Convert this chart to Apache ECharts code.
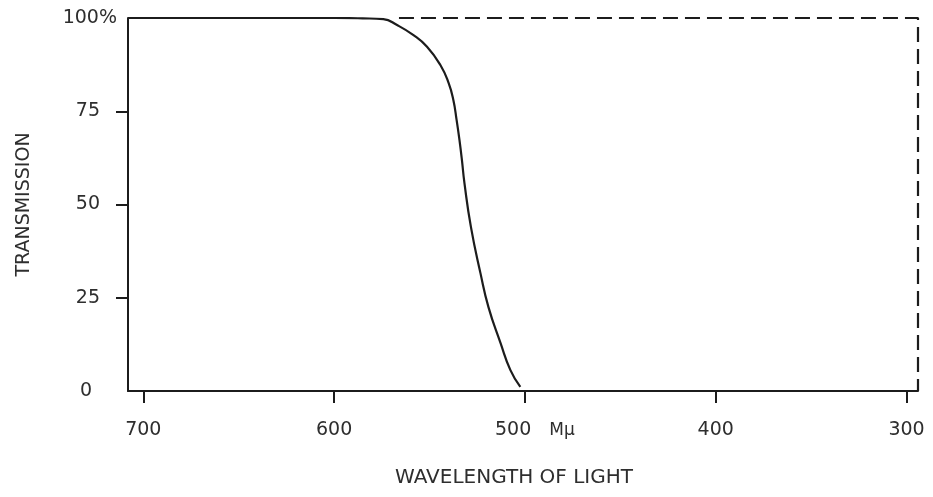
<!DOCTYPE html>
<html>
<head>
<meta charset="utf-8">
<script src="https://cdn.jsdelivr.net/npm/echarts@6/dist/echarts.min.js"></script>
<style>
  html, body { margin: 0; padding: 0; background: #fff; }
  #main { width: 933px; height: 497px; }
</style>
</head>
<body>
<div id="main"></div>
<script>
// wavelength (m\u03bc) / transmission (%)
var wavelength = [708, 600, 585, 574.2, 567, 558.4, 551.3, 544.3, 540, 537.5, 535.8, 534.3, 533, 531.7, 528.3, 523.3, 519.1, 512.8, 507.6, 502.4];
var transmission = [100, 100, 99.9, 99.7, 98.1, 95.4, 92.3, 87.4, 82.6, 78, 72.7, 67.3, 61.9, 55.8, 44, 31.6, 22.5, 12.9, 5.6, 1.1];

// dashed outline: ideal filter edge
var outlineX = [566, 294, 294];
var outlineY = [100, 100, 0];

var xTicks = [700, 600, 500, 400, 300];
var yTicks = [0, 25, 50, 75, 100];
var yMinorTicks = [25, 50, 75];

var ink = '#1c1c1c';
var textInk = '#2e2e2e';
var font = 'DejaVu Sans';

var curveData = wavelength.map(function (w, i) { return [w, transmission[i]]; });
var outlineData = outlineX.map(function (w, i) { return [w, outlineY[i]]; });

var myChart = echarts.init(document.getElementById('main'));

var option = {
  backgroundColor: '#fff',
  animation: false,
  grid: { left: 128, right: 15, top: 18, bottom: 106 },
  xAxis: {
    type: 'value',
    inverse: true,
    min: 294,
    max: 708,
    name: 'WAVELENGTH OF LIGHT',
    nameLocation: 'middle',
    nameGap: 77,
    nameTextStyle: { fontFamily: font, fontSize: 20, color: textInk, padding: [0, 18, 0, 0] },
    axisLine: { show: true, lineStyle: { color: ink, width: 2 } },
    axisTick: { show: true, customValues: xTicks, length: 12, lineStyle: { color: ink, width: 2 } },
    axisLabel: {
      customValues: xTicks,
      margin: 30,
      fontFamily: font,
      fontSize: 19,
      color: textInk,
      formatter: function (v) {
        return v === 500 ? '{n|500}{u|M\u03bc}' : String(v);
      },
      rich: {
        n: { fontFamily: font, fontSize: 19, color: textInk, padding: [0, 0, 0, 20] },
        u: { fontFamily: font, fontSize: 17, color: textInk, padding: [0, 0, 0, 18] }
      }
    },
    splitLine: { show: false }
  },
  yAxis: {
    type: 'value',
    min: 0,
    max: 100,
    name: 'TRANSMISSION',
    nameLocation: 'middle',
    nameGap: 94,
    nameRotate: 90,
    nameTextStyle: { fontFamily: font, fontSize: 19, color: textInk },
    axisLine: { show: true, lineStyle: { color: ink, width: 2 } },
    axisTick: { show: true, customValues: yMinorTicks, length: 12, lineStyle: { color: ink, width: 2 } },
    axisLabel: {
      customValues: yTicks,
      margin: 11,
      fontFamily: font,
      fontSize: 19,
      color: textInk,
      formatter: function (v) {
        if (v === 100) return '{p|100%}';
        if (v === 0) return '{z|0}';
        return '{n|' + v + '}';
      },
      rich: {
        p: { fontFamily: font, fontSize: 19, color: textInk },
        n: { fontFamily: font, fontSize: 19, color: textInk, padding: [0, 17, 0, 0] },
        z: { fontFamily: font, fontSize: 19, color: textInk, padding: [0, 25, 0, 0] }
      }
    },
    splitLine: { show: false }
  },
  series: [
    {
      name: 'Transmission',
      type: 'line',
      data: curveData,
      smooth: 0.5,
      showSymbol: false,
      lineStyle: { color: ink, width: 2.2 }
    },
    {
      name: 'Outline',
      type: 'line',
      data: outlineData,
      showSymbol: false,
      lineStyle: { color: ink, width: 2.2, type: [15, 7] }
    }
  ]
};

myChart.setOption(option);
</script>
</body>
</html>
